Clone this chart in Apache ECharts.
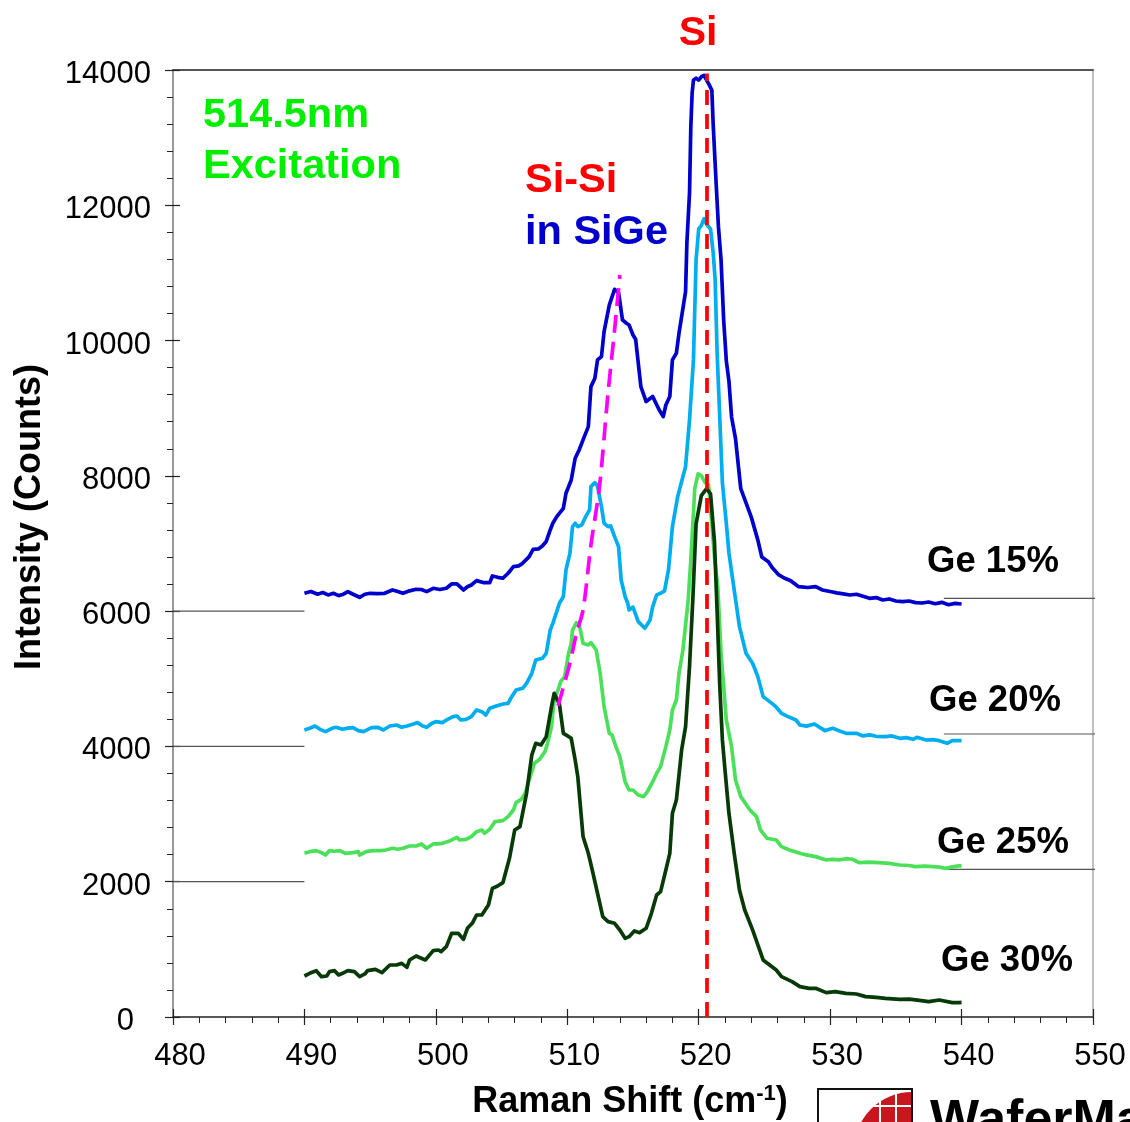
<!DOCTYPE html>
<html>
<head>
<meta charset="utf-8">
<script src="https://cdn.jsdelivr.net/npm/echarts@6/dist/echarts.min.js"></script>
<style>
  html, body { margin: 0; padding: 0; background: #fff; }
  #chart { width: 1130px; height: 1122px; }
</style>
</head>
<body>
<div id="chart"></div>
<script>
// Raman spectra of SiGe layers, 514.5 nm excitation (spectra offset vertically)
const xTicks = [480, 490, 500, 510, 520, 530, 540, 550];
const yTicks = [0, 2000, 4000, 6000, 8000, 10000, 12000, 14000];

const ge15Shift = [490.0,490.5,491.0,491.4,491.8,492.2,492.6,492.9,493.3,493.7,494.2,494.6,495.0,495.5,496.1,496.7,497.1,497.5,498.0,498.5,498.9,499.3,499.8,500.3,500.8,501.2,501.6,502.1,502.4,502.7,503.1,503.6,504.1,504.3,504.7,505.1,505.5,505.9,506.3,506.6,507.1,507.4,507.8,508.1,508.4,508.7,508.9,509.2,509.7,509.9,510.3,510.6,510.9,511.2,511.6,511.8,512.1,512.3,512.6,512.8,513.2,513.6,513.9,514.2,514.5,514.7,515.0,515.2,515.6,516.0,516.5,517.0,517.3,517.5,517.8,518.0,518.3,518.5,519.0,519.1,519.3,519.4,519.5,519.6,519.8,520.0,520.2,520.4,520.6,520.8,521.0,521.1,521.3,521.5,521.7,521.9,522.1,522.3,522.5,522.8,523.2,523.6,524.0,524.5,524.8,525.3,525.6,526.1,526.5,527.0,527.6,528.3,528.9,529.4,530.0,530.5,531.0,531.5,532.0,532.5,533.0,533.5,534.0,534.5,535.0,535.5,536.0,536.5,537.0,537.5,538.0,538.5,539.0,539.5,540.0];
const ge15Counts = [6264,6290,6250,6275,6240,6264,6230,6245,6289,6250,6205,6250,6264,6260,6264,6313,6290,6264,6300,6323,6320,6289,6338,6320,6338,6402,6402,6313,6360,6387,6451,6422,6422,6520,6500,6486,6560,6658,6670,6707,6806,6914,6920,6964,7030,7200,7300,7397,7520,7743,7939,8260,8383,8531,8728,9319,9443,9714,9763,10133,10527,10758,10709,10305,10256,10231,10083,10019,9319,9098,9172,8974,8876,9048,9172,9714,9812,10108,10724,11443,12180,13163,13660,13850,13880,13850,13900,13920,13850,13780,13700,13200,12420,11684,11192,10300,9700,9400,8870,8550,7810,7600,7390,7050,6800,6731,6640,6535,6490,6450,6362,6350,6362,6313,6290,6270,6255,6239,6250,6220,6190,6200,6165,6180,6150,6140,6150,6126,6120,6135,6110,6130,6095,6115,6106];

const ge20Shift = [490.0,490.4,490.8,491.2,491.6,492.1,492.4,492.9,493.3,493.7,494.1,494.5,495.1,495.6,496.0,496.5,497.0,497.4,497.8,498.3,498.6,499.0,499.3,499.7,500.0,500.5,500.9,501.3,501.6,501.9,502.3,502.7,503.1,503.5,503.8,504.1,504.6,505.1,505.5,505.7,506.1,506.6,506.9,507.3,507.6,508.1,508.4,508.7,508.9,509.4,509.7,509.9,510.2,510.4,510.6,510.8,511.1,511.4,511.7,511.8,512.1,512.3,512.6,512.8,513.1,513.3,513.6,513.9,514.1,514.4,514.6,514.7,515.0,515.4,515.9,516.3,516.5,516.8,517.1,517.4,517.7,518.0,518.4,518.8,519.0,519.3,519.6,519.8,520.0,520.2,520.4,520.6,520.9,521.1,521.25,521.4,521.6,521.8,522.1,522.3,522.7,523.1,523.6,524.1,524.5,524.9,525.4,525.8,526.3,526.8,527.4,527.7,528.2,528.8,529.6,530.2,530.7,531.2,532.0,532.5,533.0,533.5,534.2,534.7,535.3,535.8,536.3,536.6,537.3,537.8,538.3,538.9,539.3,539.8,540.0];
const ge20Counts = [4243,4268,4302,4253,4218,4268,4283,4253,4270,4278,4233,4218,4278,4283,4243,4302,4317,4283,4302,4332,4352,4302,4283,4342,4366,4352,4401,4440,4450,4391,4401,4440,4539,4514,4465,4563,4598,4627,4637,4711,4834,4859,4933,5081,5278,5303,5377,5721,5820,6116,6215,6609,6855,7250,7299,7250,7274,7397,7500,7841,7900,7850,7545,7299,7250,7260,7102,6954,6461,6215,6117,6018,6060,5845,5747,5870,6067,6240,6264,6300,6609,7250,7693,7990,8136,8826,9714,11192,11650,11700,11800,11720,11650,11300,10900,9818,8870,7900,7300,6860,6313,5771,5377,5229,5032,4736,4662,4600,4490,4441,4391,4317,4300,4332,4234,4268,4230,4194,4194,4155,4170,4150,4145,4155,4120,4130,4105,4135,4095,4100,4085,4046,4086,4086,4086];

const ge25Shift = [490.0,490.4,490.9,491.3,491.6,491.9,492.3,492.7,493.1,493.7,494.1,494.2,494.7,495.2,495.8,496.2,496.7,497.1,497.5,498.0,498.5,498.9,499.3,499.8,500.2,500.5,501.1,501.6,501.8,502.3,502.7,503.1,503.5,503.7,504.1,504.5,505.1,505.5,505.9,506.1,506.5,506.8,507.1,507.5,507.9,508.3,508.5,508.8,509.0,509.3,509.5,509.8,510.1,510.3,510.4,510.7,510.9,511.2,511.6,511.8,512.2,512.5,512.8,513.2,513.4,513.7,514.0,514.4,514.7,515.0,515.4,515.8,516.1,516.5,516.8,517.1,517.5,517.8,518.0,518.3,518.5,518.8,519.2,519.4,519.7,519.95,520.2,520.5,520.75,521.0,521.2,521.45,521.7,522.1,522.5,522.8,523.2,523.9,524.4,524.7,525.2,525.9,526.3,526.9,527.7,528.2,528.9,529.7,530.2,530.7,531.2,531.7,532.2,533.0,533.7,534.5,535.3,536.0,536.5,537.2,537.8,538.3,538.8,539.3,539.8,540.0];
const ge25Counts = [2420,2444,2459,2430,2395,2459,2450,2459,2420,2430,2444,2395,2444,2459,2460,2469,2494,2480,2494,2528,2528,2558,2494,2558,2560,2568,2607,2657,2617,2627,2666,2740,2765,2715,2775,2888,2903,2962,3060,3169,3218,3307,3504,3750,3810,3923,4046,4292,4687,4834,4958,5032,5377,5524,5721,5830,5810,5524,5500,5534,5426,5081,4588,4194,4170,3997,3849,3479,3356,3356,3282,3257,3331,3479,3603,3701,3997,4243,4539,4687,5081,5426,6165,6756,7812,8030,8000,7900,7865,7290,6800,6362,5377,4391,3997,3504,3258,3061,2962,2765,2642,2617,2519,2470,2420,2396,2371,2322,2330,2322,2340,2332,2282,2290,2282,2270,2247,2240,2223,2230,2223,2215,2198,2220,2233,2233];

const ge30Shift = [490.0,490.4,490.9,491.3,491.7,491.9,492.3,492.6,492.9,493.3,493.8,494.2,494.6,494.8,495.4,495.9,496.5,497.0,497.4,497.8,498.0,498.5,499.2,499.8,500.2,500.4,500.8,501.2,501.7,502.1,502.4,502.8,503.1,503.5,504.0,504.3,504.7,505.1,505.6,506.0,506.4,506.6,506.9,507.3,507.6,508.0,508.4,508.8,509.0,509.4,509.7,509.9,510.3,510.6,510.8,511.2,511.6,511.9,512.3,512.7,513.1,513.6,514.0,514.4,514.7,515.1,515.5,516.0,516.4,516.8,517.1,517.5,517.8,518.0,518.3,518.7,519.0,519.3,519.55,519.8,520.2,520.6,520.9,521.2,521.4,521.6,521.8,522.0,522.3,522.7,523.1,523.5,524.1,524.9,525.4,525.9,526.3,527.1,527.7,528.4,528.9,529.7,530.4,531.2,532.0,532.7,533.5,534.2,535.3,536.0,536.5,537.5,538.3,539.3,539.8,540.0];
const ge30Counts = [606,646,685,596,606,670,685,621,646,685,670,596,636,685,705,655,769,769,793,734,843,902,843,981,990,966,1040,1237,1237,1148,1311,1395,1508,1508,1656,1902,1937,1986,2346,2765,2814,3011,3307,3873,4046,4022,4145,4588,4785,4627,4194,4170,4120,3800,3553,2666,2420,2173,1829,1483,1410,1385,1286,1163,1188,1272,1247,1311,1533,1804,1853,2173,2420,3011,3208,3947,4292,5180,6165,7290,7707,7812,7733,7022,6000,4900,4100,3652,3011,2420,1878,1582,1287,843,769,695,597,523,449,424,424,360,375,350,340,301,290,276,261,265,252,227,252,212,212,215];

// Si-Si mode position through the four spectra
const siSiShift = [509.3, 510.2, 510.7, 511.2, 511.8, 512.45, 513.1, 513.6, 514.0];
const siSiCounts = [4600, 5229, 5673, 6017, 6978, 7840, 9221, 10157, 10970];

// bulk Si line
const siShift = [520.63, 520.63];
const siCounts = [0, 13950];

// baseline markers
const offsetLevels = [6000, 4000, 2000];
const offsetShift = [480, 490];
const tailShift = [538.65, 550.45];
const tailLevels = [6190, 4184, 2183];
const sampleNames = ['Ge 15%', 'Ge 20%', 'Ge 25%', 'Ge 30%'];

const zip = (xs, ys) => xs.map((x, i) => [x, ys[i]]);
const FONT = '"Liberation Sans", Arial, Helvetica, sans-serif';

const chart = echarts.init(document.getElementById('chart'), null, { renderer: 'canvas' });

const spectrum = (name, xs, ys, color) => ({
  name, type: 'line', data: zip(xs, ys), showSymbol: false, symbol: 'none',
  lineStyle: { color, width: 3.7, join: 'round' }, z: 3, animation: false
});
const refLine = (data) => ({
  type: 'line', data, showSymbol: false, symbol: 'none', silent: true, clip: false,
  lineStyle: { color: '#555', width: 1.2 }, z: 1, animation: false
});

const series = [];
offsetLevels.forEach(v => series.push(refLine(offsetShift.map(x => [x, v]))));
tailLevels.forEach(v => series.push(refLine(tailShift.map(x => [x, v]))));
series.push(spectrum(sampleNames[0], ge15Shift, ge15Counts, '#0000CC'));
series.push(spectrum(sampleNames[1], ge20Shift, ge20Counts, '#00AEEF'));
series.push(spectrum(sampleNames[2], ge25Shift, ge25Counts, '#4CE05A'));
series.push(spectrum(sampleNames[3], ge30Shift, ge30Counts, '#083A08'));
series.push({
  type: 'line', data: zip(siSiShift, siSiCounts), showSymbol: false, symbol: 'none', smooth: 0.3,
  lineStyle: { color: '#FF00FF', width: 3.7, type: [18, 9] }, z: 4, animation: false
});
series.push({
  type: 'line', data: zip(siShift, siCounts), showSymbol: false, symbol: 'none',
  lineStyle: { color: '#FF0000', width: 3.7, type: [15, 9] }, z: 5, animation: false
});

const boldText = (text, x, y, size, color, align) => ({
  type: 'text', x, y, z: 10,
  style: { text, fill: color, font: `bold ${size}px ${FONT}`, textAlign: align || 'left', textVerticalAlign: 'top' }
});

const option = {
  animation: false,
  backgroundColor: '#fff',
  grid: { left: 173, right: 37, top: 70, bottom: 105 },
  xAxis: [
    {
      type: 'value', min: xTicks[0], max: xTicks[xTicks.length - 1], interval: 10, position: 'bottom',
      axisLine: { show: true, onZero: false, lineStyle: { color: '#222', width: 1.5 } },
      axisTick: { show: true, length: 8, lineStyle: { color: '#222', width: 1.2 } },
      minorTick: { show: true, splitNumber: 5, length: 6, lineStyle: { color: '#222', width: 1 } },
      axisLabel: { fontSize: 31, color: '#000', fontFamily: FONT, margin: 24, padding: [0, 0, 0, 14] },
      splitLine: { show: false }
    },
    {
      type: 'value', min: xTicks[0], max: xTicks[xTicks.length - 1], interval: 10, position: 'bottom',
      axisLine: { show: false, onZero: false },
      axisTick: { show: true, inside: true, length: 8, lineStyle: { color: '#222', width: 1.2 } },
      axisLabel: { show: false }, splitLine: { show: false }
    },
    {
      type: 'value', min: xTicks[0], max: xTicks[xTicks.length - 1], position: 'top',
      axisLine: { show: true, onZero: false, lineStyle: { color: '#555', width: 2 } },
      axisTick: { show: false }, axisLabel: { show: false }, splitLine: { show: false }
    }
  ],
  yAxis: [
    {
      type: 'value', min: yTicks[0], max: yTicks[yTicks.length - 1], interval: 2000, position: 'left',
      axisLine: { show: true, onZero: false, lineStyle: { color: '#777', width: 1.5 } },
      axisTick: { show: true, length: 8, lineStyle: { color: '#222', width: 1.2 } },
      minorTick: { show: true, splitNumber: 5, length: 6, lineStyle: { color: '#222', width: 1 } },
      axisLabel: {
        fontSize: 31, color: '#000', fontFamily: FONT, margin: 22, padding: [9, 0, 0, 0],
        formatter: v => (v === 0 ? '{zero|0}' : String(v)),
        rich: { zero: { fontSize: 31, fontFamily: FONT, color: '#000', padding: [0, 17, 0, 0] } }
      },
      splitLine: { show: false }
    },
    {
      type: 'value', min: yTicks[0], max: yTicks[yTicks.length - 1], interval: 2000, position: 'left',
      axisLine: { show: false, onZero: false },
      axisTick: { show: true, inside: true, length: 7, lineStyle: { color: '#222', width: 1.2 } },
      axisLabel: { show: false }, splitLine: { show: false }
    },
    {
      type: 'value', min: yTicks[0], max: yTicks[yTicks.length - 1], position: 'right',
      axisLine: { show: true, onZero: false, lineStyle: { color: '#aaa', width: 1.5 } },
      axisTick: { show: false }, axisLabel: { show: false }, splitLine: { show: false }
    }
  ],
  series,
  graphic: [
    boldText('Si', 698, 13, 41, '#FF0000', 'center'),
    boldText('514.5nm', 203, 95, 41.5, '#00EE00'),
    boldText('Excitation', 203, 146, 41.5, '#00EE00'),
    boldText('Si-Si', 525, 160, 41.5, '#FF0000'),
    boldText('in SiGe', 525, 212, 41.5, '#0000CC'),
    boldText(sampleNames[0], 927, 543, 36.5, '#000'),
    boldText(sampleNames[1], 929, 682, 36.5, '#000'),
    boldText(sampleNames[2], 937, 824, 36.5, '#000'),
    boldText(sampleNames[3], 941, 942, 36.5, '#000'),
    {
      type: 'text', x: 30, y: 517, rotation: Math.PI / 2, z: 10,
      style: { text: 'Intensity (Counts)', fill: '#000', font: `bold 36px ${FONT}`, textAlign: 'center', textVerticalAlign: 'middle' }
    },
    {
      type: 'text', x: 630, y: 1083, z: 10,
      style: {
        text: 'Raman Shift (cm{sup|-1})', fill: '#000', font: `bold 36px ${FONT}`, textAlign: 'center', textVerticalAlign: 'top',
        rich: { sup: { font: `bold 22px ${FONT}`, fill: '#000', padding: [0, 0, 16, 0] } }
      }
    },
    // company logo
    {
      type: 'group', z: 10,
      children: [
        { type: 'rect', shape: { x: 818, y: 1089, width: 94, height: 40 }, style: { fill: '#fff', stroke: '#111', lineWidth: 2 } },
        { type: 'sector', shape: { cx: 912, cy: 1150, r: 58, startAngle: Math.PI, endAngle: Math.PI * 1.5 }, style: { fill: '#C8161E' } },
        { type: 'rect', shape: { x: 818, y: 1089, width: 94, height: 40 }, style: { fill: 'none', stroke: '#111', lineWidth: 2 } },
        { type: 'line', shape: { x1: 880, y1: 1090, x2: 880, y2: 1122 }, style: { stroke: '#fff', lineWidth: 2 } },
        { type: 'line', shape: { x1: 896, y1: 1090, x2: 896, y2: 1122 }, style: { stroke: '#fff', lineWidth: 2 } },
        { type: 'line', shape: { x1: 860, y1: 1106, x2: 911, y2: 1106 }, style: { stroke: '#fff', lineWidth: 2 } },
        { type: 'text', x: 930, y: 1096, style: { text: 'WaferMasters', fill: '#000', font: `900 52px ${FONT}`, textVerticalAlign: 'top' } }
      ]
    }
  ]
};

chart.setOption(option);
</script>
</body>
</html>
